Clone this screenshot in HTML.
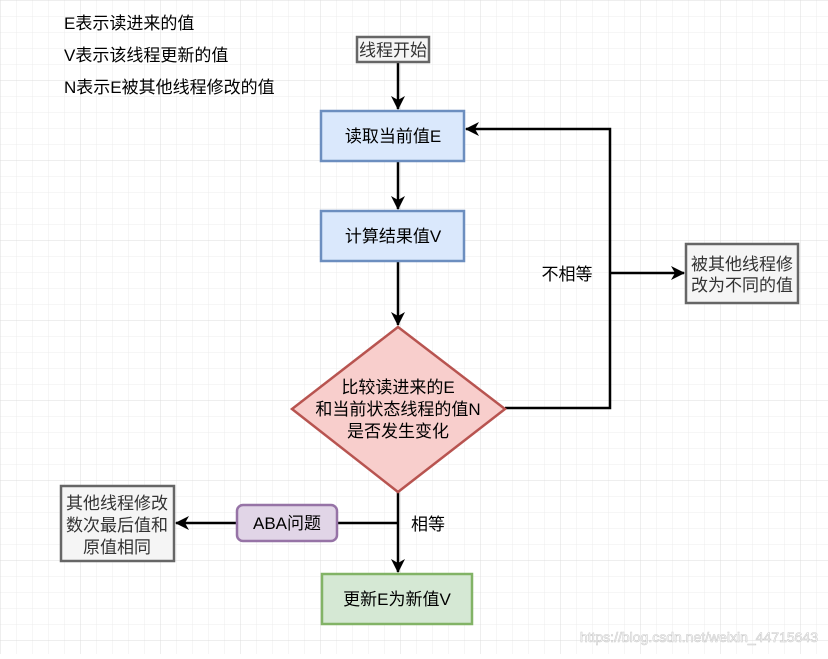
<!DOCTYPE html>
<html><head><meta charset="utf-8"><style>
body{margin:0;width:828px;height:654px;overflow:hidden;background:#fff;font-family:"Liberation Sans","Noto Sans CJK SC",sans-serif;}
svg text{font-family:"Liberation Sans","Noto Sans CJK SC",sans-serif;}
</style></head><body>
<svg width="828" height="654" xmlns="http://www.w3.org/2000/svg">
<defs>
<pattern id="g" width="16" height="16" patternUnits="userSpaceOnUse"><path d="M16 0H0V16" fill="none" stroke="#ececec" stroke-width="1"/></pattern>
<pattern id="G" width="80" height="80" patternUnits="userSpaceOnUse"><rect width="80" height="80" fill="url(#g)"/><path d="M80 0H0V80" fill="none" stroke="#dcdcdc" stroke-width="1"/></pattern>
<marker id="a" markerWidth="14" markerHeight="14" refX="13" refY="7" orient="auto" markerUnits="userSpaceOnUse"><path d="M0,0 L14,7 L0,14 L4,7z" fill="#000"/></marker>
</defs>
<rect width="828" height="654" fill="url(#G)"/>
<g font-size="17" fill="#000">
<text x="64" y="29">E表示读进来的值</text>
<text x="64" y="61">V表示该线程更新的值</text>
<text x="64" y="93">N表示E被其他线程修改的值</text>
</g>
<g stroke="#000" stroke-width="2.5" fill="none">
<line x1="398" y1="62" x2="398" y2="109" marker-end="url(#a)"/>
<line x1="398" y1="161" x2="398" y2="209" marker-end="url(#a)"/>
<line x1="398" y1="261" x2="398" y2="325" marker-end="url(#a)"/>
<polyline points="505,408 610,408 610,129 466,129" marker-end="url(#a)"/>
<line x1="610" y1="273" x2="684" y2="273" marker-end="url(#a)"/>
<line x1="398" y1="492" x2="398" y2="572" marker-end="url(#a)"/>
<line x1="398" y1="523" x2="337" y2="523"/>
<line x1="237" y1="523" x2="176" y2="523" marker-end="url(#a)"/>
</g>
<rect x="357" y="37" width="72" height="25" fill="#f5f5f5" stroke="#666" stroke-width="2.5"/>
<text x="393" y="56" font-size="17" text-anchor="middle" fill="#333">线程开始</text>
<rect x="321" y="111" width="143" height="50" fill="#dae8fc" stroke="#6c8ebf" stroke-width="2.5"/>
<text x="393" y="142" font-size="17" text-anchor="middle">读取当前值E</text>
<rect x="321" y="211" width="143" height="50" fill="#dae8fc" stroke="#6c8ebf" stroke-width="2.5"/>
<text x="393" y="242" font-size="17" text-anchor="middle">计算结果值V</text>
<polygon points="398,327 505,409 398,492 292,409" fill="#f8cecc" stroke="#b85450" stroke-width="2.5"/>
<g font-size="17" text-anchor="middle">
<text x="398" y="393">比较读进来的E</text>
<text x="398" y="415">和当前状态线程的值N</text>
<text x="398" y="437">是否发生变化</text>
<text x="567" y="280">不相等</text>
<text x="428" y="530">相等</text>
</g>
<rect x="686" y="244" width="112" height="59" fill="#f5f5f5" stroke="#666" stroke-width="2.5"/>
<text x="742" y="270" font-size="17" text-anchor="middle" fill="#333">被其他线程修</text>
<text x="742" y="291" font-size="17" text-anchor="middle" fill="#333">改为不同的值</text>
<rect x="237" y="505" width="100" height="36" rx="6" fill="#e1d5e7" stroke="#9673a6" stroke-width="2.5"/>
<text x="287" y="529" font-size="17" text-anchor="middle">ABA问题</text>
<rect x="61" y="486" width="113" height="75" fill="#f5f5f5" stroke="#666" stroke-width="2.5"/>
<g font-size="17" text-anchor="middle" fill="#333">
<text x="117" y="509">其他线程修改</text>
<text x="117" y="531">数次最后值和</text>
<text x="117" y="553">原值相同</text>
</g>
<rect x="322" y="574" width="150" height="50" fill="#d5e8d4" stroke="#82b366" stroke-width="2.5"/>
<text x="397" y="605" font-size="17" text-anchor="middle">更新E为新值V</text>
<text x="818" y="642" font-size="14" text-anchor="end" fill="#fff" stroke="#ccc" stroke-width="0.6">https://blog.csdn.net/weixin_44715643</text>
</svg>
</body></html>
